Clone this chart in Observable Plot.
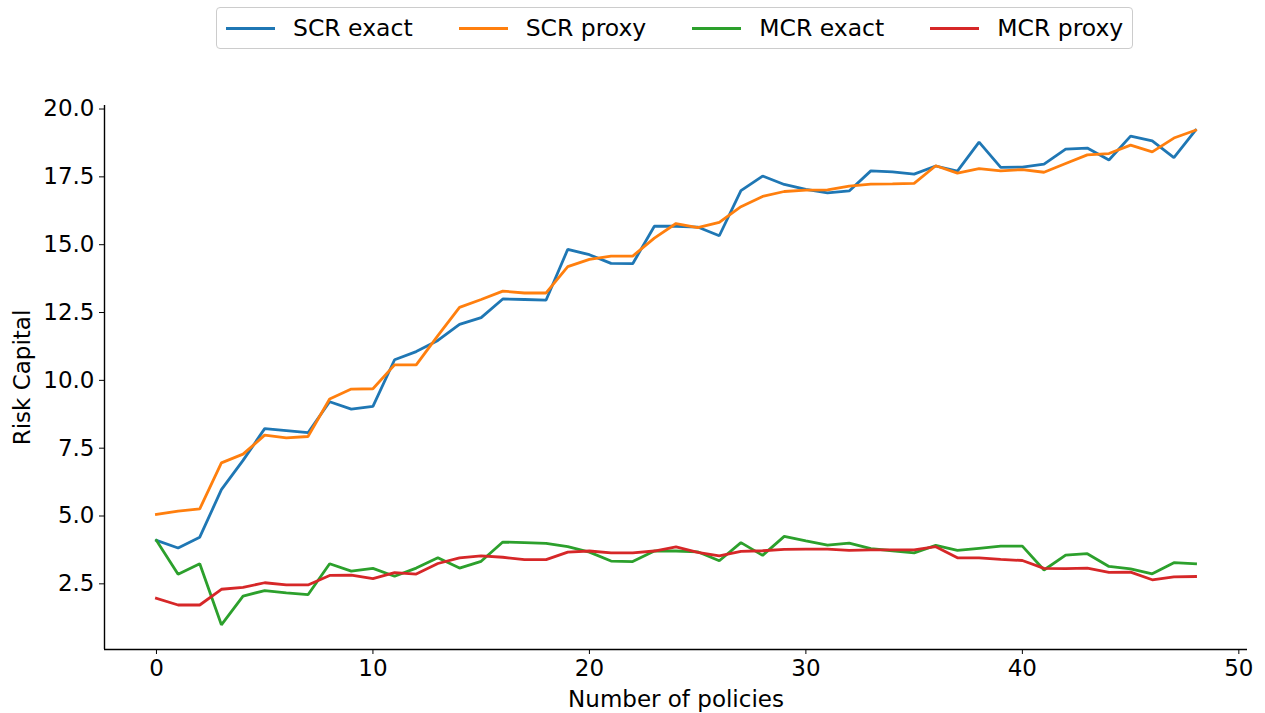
<!DOCTYPE html>
<html>
<head>
<meta charset="utf-8">
<script src="https://cdn.jsdelivr.net/npm/d3@7"></script>
<script src="https://cdn.jsdelivr.net/npm/@observablehq/plot@0.6"></script>
<style>
  html, body { margin: 0; padding: 0; background: #fff; }
  body { width: 1265px; height: 713px; position: relative; overflow: hidden; font-family: "DejaVu Sans", sans-serif; }
  #legend {
    position: absolute; left: 216px; top: 7px; height: 42px; box-sizing: border-box;
    border: 1px solid #cccccc; border-radius: 4px; background: rgba(255,255,255,0.8);
    display: flex; align-items: center; padding: 0 9px; gap: 46px; z-index: 2;
    font-size: 23.5px; color: #000;
  }
  .item { display: flex; align-items: center; white-space: nowrap; }
  .sw { width: 49px; height: 3px; margin-right: 18px; }
  #chart { position: absolute; left: 0; top: 0; }
</style>
</head>
<body>
<div id="legend"></div>
<div id="chart"></div>
<script>
const policies = d3.range(49);
const seriesNames = ["SCR exact", "SCR proxy", "MCR exact", "MCR proxy"];
const seriesColors = ["#1f77b4", "#ff7f0e", "#2ca02c", "#d62728"];

const scrExact = [4.10,3.82,4.22,5.97,7.05,8.22,8.15,8.07,9.21,8.94,9.04,10.76,11.06,11.47,12.06,12.31,13.00,12.98,12.96,14.83,14.63,14.31,14.30,15.68,15.68,15.65,15.33,16.99,17.53,17.22,17.04,16.91,16.98,17.72,17.68,17.60,17.90,17.71,18.78,17.85,17.86,17.97,18.52,18.56,18.12,19.00,18.83,18.21,19.22];
const scrProxy = [5.06,5.18,5.26,6.96,7.28,7.98,7.88,7.93,9.31,9.68,9.69,10.57,10.57,11.65,12.69,12.98,13.29,13.22,13.22,14.19,14.46,14.58,14.58,15.24,15.78,15.63,15.82,16.40,16.78,16.96,17.01,17.02,17.16,17.23,17.24,17.26,17.91,17.64,17.80,17.72,17.77,17.67,17.99,18.31,18.36,18.67,18.42,18.93,19.22];
const mcrExact = [4.10,2.85,3.24,0.99,2.05,2.25,2.17,2.10,3.24,2.97,3.07,2.78,3.08,3.46,3.08,3.33,4.04,4.02,3.99,3.87,3.67,3.34,3.32,3.71,3.71,3.68,3.35,4.02,3.55,4.25,4.08,3.93,4.00,3.80,3.72,3.64,3.92,3.73,3.81,3.89,3.89,3.01,3.56,3.61,3.14,3.05,2.87,3.28,3.24];
const mcrProxy = [1.97,1.72,1.72,2.30,2.37,2.54,2.46,2.46,2.81,2.82,2.69,2.91,2.86,3.25,3.46,3.53,3.48,3.39,3.39,3.67,3.71,3.64,3.64,3.71,3.86,3.66,3.53,3.70,3.72,3.77,3.78,3.78,3.73,3.75,3.75,3.75,3.87,3.46,3.46,3.40,3.36,3.07,3.06,3.08,2.92,2.93,2.65,2.76,2.77];

const xTicks = [0, 10, 20, 30, 40, 50];
const yTicks = [2.5, 5.0, 7.5, 10.0, 12.5, 15.0, 17.5, 20.0];
const xDomain = [-2.4, 50.4];
const yDomain = [0.08, 20.13];

const allSeries = [scrExact, scrProxy, mcrExact, mcrProxy];
const rows = [];
allSeries.forEach((vals, s) => vals.forEach((v, i) => rows.push({x: policies[i], y: v, series: seriesNames[s]})));

// legend
const legend = document.getElementById("legend");
seriesNames.forEach((name, i) => {
  const it = document.createElement("div");
  it.className = "item";
  const sw = document.createElement("div");
  sw.className = "sw";
  sw.style.background = seriesColors[i];
  const tx = document.createElement("span");
  tx.textContent = name;
  it.appendChild(sw); it.appendChild(tx);
  legend.appendChild(it);
});

const plot = Plot.plot({
  width: 1265,
  height: 713,
  marginLeft: 104,
  marginRight: 18,
  marginTop: 105,
  marginBottom: 64,
  style: { fontFamily: "DejaVu Sans, sans-serif", fontSize: "23px", color: "#000", background: "transparent" },
  x: { domain: xDomain },
  y: { domain: yDomain },
  color: { domain: seriesNames, range: seriesColors },
  marks: [
    Plot.ruleX([xDomain[0]], { y1: yDomain[0], y2: yDomain[1], stroke: "#000", strokeWidth: 1.4 }),
    Plot.ruleY([yDomain[0]], { x1: xDomain[0], x2: xDomain[1], stroke: "#000", strokeWidth: 1.4 }),
    Plot.axisX({ ticks: xTicks, tickSize: 5, tickPadding: 5, tickFormat: d3.format("d"), label: "Number of policies", labelArrow: false, labelAnchor: "center", labelOffset: 57, fontSize: 23 }),
    Plot.axisY({ ticks: yTicks, tickSize: 5, tickPadding: 5, tickFormat: d3.format(".1f"), label: "Risk Capital", labelArrow: false, labelAnchor: "center", labelOffset: 91, fontSize: 23 }),
    Plot.line(rows, { x: "x", y: "y", z: "series", stroke: "series", strokeWidth: 2.8, strokeLinejoin: "miter", strokeLinecap: "square" })
  ]
});
document.getElementById("chart").appendChild(plot);
</script>
</body>
</html>
